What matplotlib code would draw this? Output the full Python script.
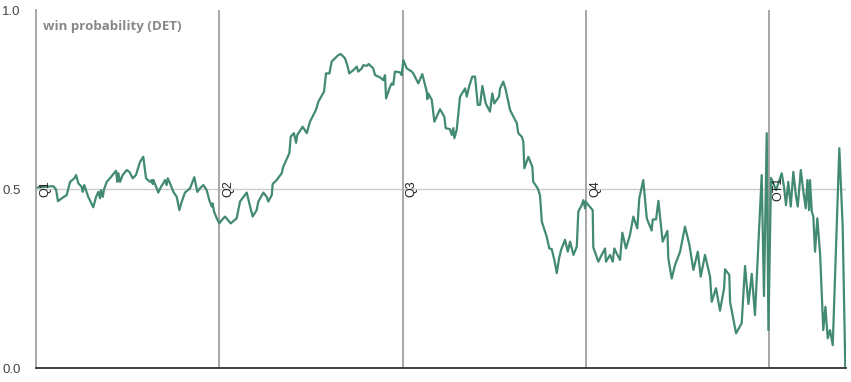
import numpy as np
import matplotlib.pyplot as plt

# game clock in minutes (4 x 12 min quarters + 5 min overtime)
minutes = [
    0.00, 1.13, 1.31, 1.44, 1.68, 2.01, 2.23, 2.51, 2.62, 2.77, 2.99, 3.06, 3.16, 3.42, 3.75,
    3.93, 4.08, 4.19, 4.25, 4.37, 4.45, 4.63, 4.84, 5.10, 5.24, 5.32, 5.39, 5.50, 5.67, 5.94,
    6.11, 6.33, 6.54, 6.81, 7.02, 7.20, 7.46, 7.57, 7.64, 7.68, 7.90, 8.00, 8.18, 8.33, 8.44,
    8.55, 8.62, 8.77, 8.99, 9.21, 9.38, 9.54, 9.75, 10.08, 10.36, 10.56, 10.73, 10.95, 11.17,
    11.34, 11.50, 11.56, 11.65, 11.83, 12.00,
    12.15, 12.37, 12.74, 13.13, 13.35, 13.79, 13.96, 14.18, 14.44, 14.55, 14.88, 15.10, 15.20,
    15.43, 15.49, 15.75, 16.08, 16.18, 16.58, 16.67, 16.88, 17.02, 17.10, 17.45, 17.72, 17.93,
    18.15, 18.32, 18.48, 18.85, 18.98, 19.20, 19.35, 19.78, 19.94, 20.22, 20.37, 20.50, 20.77,
    20.99, 21.09, 21.32, 21.42, 21.64, 21.77, 22.07, 22.19, 22.51, 22.73, 22.84, 22.91, 23.17,
    23.28, 23.38, 23.49, 23.82, 23.93, 24.04,
    24.26, 24.59, 24.69, 25.02, 25.28, 25.57, 25.61, 25.67, 25.90, 26.07, 26.22, 26.44, 26.72,
    26.81, 27.09, 27.21, 27.31, 27.38, 27.53, 27.75, 28.08, 28.19, 28.34, 28.55, 28.73, 28.91,
    29.06, 29.21, 29.43, 29.71, 29.86, 29.99, 30.15, 30.30, 30.37, 30.58, 30.74, 31.02, 31.35,
    31.46, 31.56, 31.79, 31.89, 31.96, 32.22, 32.48, 32.54, 32.83, 32.98, 33.10, 33.42, 33.59,
    33.75, 33.92, 34.08, 34.23, 34.36, 34.62, 34.80, 34.95, 35.17, 35.39, 35.49, 35.71, 35.82,
    35.93, 35.97,
    36.15, 36.43, 36.47, 36.80, 37.02, 37.24, 37.30, 37.57, 37.74, 37.85, 38.00, 38.22, 38.37,
    38.61, 38.87, 39.09, 39.35, 39.48, 39.74, 39.97, 40.29, 40.36, 40.58, 40.73, 41.01, 41.32,
    41.38, 41.60, 41.82, 42.15, 42.47, 42.76, 43.02, 43.31, 43.50, 43.78, 44.11, 44.22, 44.50,
    44.76, 45.03, 45.09, 45.37, 45.42, 45.81, 46.18, 46.40, 46.62, 46.84, 47.05, 47.49, 47.64,
    47.82, 47.93,
    48.10, 48.43, 48.80, 48.95, 49.08, 49.23, 49.39, 49.56, 49.74, 49.85, 50.05, 50.22, 50.37,
    50.48, 50.59, 50.65, 50.77, 50.87, 50.98, 51.13, 51.31, 51.52, 51.66, 51.81, 51.96, 52.14,
    52.57, 52.79, 52.96,
]

win_prob = [
    0.504, 0.508, 0.499, 0.466, 0.474, 0.483, 0.520, 0.530, 0.539, 0.516, 0.506, 0.492, 0.511,
    0.478, 0.449, 0.478, 0.492, 0.474, 0.497, 0.478, 0.499, 0.520, 0.530, 0.544, 0.551, 0.520,
    0.544, 0.520, 0.539, 0.553, 0.548, 0.530, 0.539, 0.576, 0.590, 0.530, 0.520, 0.525, 0.514,
    0.525, 0.502, 0.490, 0.506, 0.516, 0.525, 0.511, 0.530, 0.516, 0.492, 0.478, 0.441, 0.465,
    0.490, 0.502, 0.533, 0.492, 0.502, 0.511, 0.497, 0.469, 0.451, 0.460, 0.437, 0.418, 0.404,
    0.413, 0.423, 0.404, 0.418, 0.465, 0.490, 0.460, 0.423, 0.441, 0.465, 0.490, 0.478, 0.465,
    0.483, 0.514, 0.525, 0.544, 0.562, 0.600, 0.646, 0.656, 0.629, 0.651, 0.674, 0.656, 0.688,
    0.707, 0.721, 0.744, 0.772, 0.823, 0.823, 0.856, 0.874, 0.877, 0.865, 0.846, 0.823, 0.832,
    0.842, 0.828, 0.837, 0.846, 0.844, 0.849, 0.837, 0.818, 0.812, 0.804, 0.818, 0.753, 0.786,
    0.795, 0.791, 0.828, 0.826, 0.818, 0.860,
    0.837, 0.828, 0.823, 0.795, 0.821, 0.772, 0.751, 0.767, 0.749, 0.688, 0.702, 0.723, 0.702,
    0.670, 0.667, 0.651, 0.670, 0.642, 0.665, 0.758, 0.781, 0.758, 0.786, 0.814, 0.814, 0.735,
    0.735, 0.788, 0.739, 0.716, 0.767, 0.739, 0.749, 0.758, 0.781, 0.800, 0.777, 0.721, 0.693,
    0.685, 0.656, 0.646, 0.632, 0.558, 0.590, 0.562, 0.520, 0.502, 0.483, 0.409, 0.367, 0.334,
    0.332, 0.302, 0.265, 0.306, 0.330, 0.358, 0.325, 0.353, 0.316, 0.339, 0.437, 0.455, 0.469,
    0.446, 0.465,
    0.455, 0.441, 0.337, 0.297, 0.316, 0.334, 0.297, 0.316, 0.297, 0.334, 0.320, 0.302, 0.378,
    0.334, 0.372, 0.423, 0.390, 0.474, 0.525, 0.418, 0.384, 0.415, 0.415, 0.467, 0.353, 0.383,
    0.306, 0.250, 0.288, 0.325, 0.395, 0.344, 0.274, 0.325, 0.255, 0.316, 0.255, 0.185, 0.223,
    0.160, 0.223, 0.276, 0.260, 0.185, 0.097, 0.125, 0.285, 0.179, 0.263, 0.148, 0.539, 0.201,
    0.656, 0.106,
    0.531, 0.497, 0.544, 0.506, 0.455, 0.520, 0.451, 0.548, 0.478, 0.451, 0.553, 0.492, 0.446,
    0.525, 0.441, 0.525, 0.437, 0.423, 0.325, 0.418, 0.320, 0.106, 0.171, 0.083, 0.106, 0.064,
    0.614, 0.395, 0.004,
]

period_starts = [0, 12, 24, 36, 48]
period_labels = ["Q1", "Q2", "Q3", "Q4", "OT1"]
y_ticks = [0.0, 0.5, 1.0]

LINE_COLOR = "#438a72"

fig = plt.figure(figsize=(8.51, 3.82), dpi=100)
ax = fig.add_axes([0.0423, 0.0366, 0.9517, 0.9372])

ax.axhline(0.5, color="#cccccc", linewidth=1.0, zorder=1)
for start, label in zip(period_starts, period_labels):
    if start > 0:
        ax.axvline(start, color="#a0a0a0", linewidth=1.3, zorder=1)
    ax.text(start + 0.2, 0.5, label, rotation=90, ha="left", va="center",
            fontsize=9, color="#222222", family="Liberation Sans", zorder=3)

ax.plot(minutes, win_prob, color=LINE_COLOR, linewidth=1.6, zorder=2)

ax.set_xlim(0, 53)
ax.set_ylim(0, 1)
ax.set_xticks([])
ax.set_yticks(y_ticks)
ax.set_yticklabels([f"{v:.1f}" for v in y_ticks], family="Liberation Sans",
                   fontsize=9.5, color="#444444")
ax.tick_params(axis="y", length=0, pad=11)

for side in ["top", "right"]:
    ax.spines[side].set_visible(False)
ax.spines["left"].set_color("#a0a0a0")
ax.spines["left"].set_linewidth(1.3)
ax.spines["bottom"].set_color("#333333")
ax.spines["bottom"].set_linewidth(1.3)

ax.text(0.009, 0.972, "win probability (DET)", transform=ax.transAxes,
        ha="left", va="top", fontsize=9.6, fontweight="bold", color="#888888",
        family="Open Sans")

fig.savefig("out.png", dpi=100)
